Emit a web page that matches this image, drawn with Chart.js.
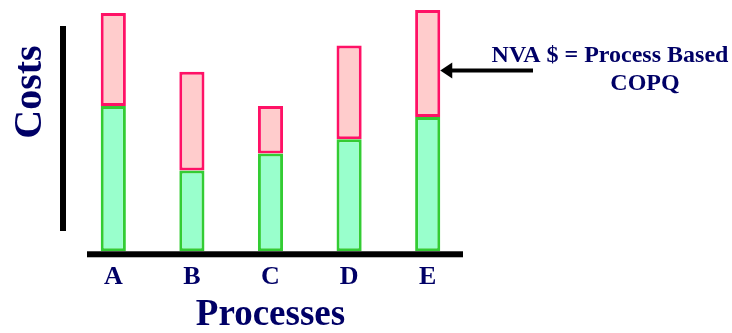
<!DOCTYPE html>
<html>
<head>
<meta charset="utf-8">
<title>Process Based COPQ</title>
<script src="https://cdn.jsdelivr.net/npm/chart.js@4.4.0/dist/chart.umd.min.js"></script>
<style>
    html, body { margin: 0; padding: 0; background: #fff; }
    #wrap { position: relative; width: 732px; height: 333px; }
</style>
</head>
<body>
<div id="wrap"><canvas id="costChart"></canvas></div>
<script>
// Data
const processes = ['A', 'B', 'C', 'D', 'E'];
const valueAddedCost = [144, 80, 97, 111, 133];
const nonValueAddedCost = [92, 98, 47, 93, 106];
const costMax = 249;

// Text
const yTitle = 'Costs';
const xTitle = 'Processes';
const noteLines = ['NVA $ = Process Based', 'COPQ'];

// Colours
const NAVY = '#000066';
const GREEN_FILL = '#99ffcc';
const GREEN_LINE = '#33cc33';
const PINK_FILL = '#ffcccc';
const PINK_LINE = '#ff1166';
const FONT = '"Liberation Serif", "Times New Roman", serif';

Chart.defaults.font.family = FONT;
Chart.defaults.color = NAVY;

// Axis strokes, rotated y label and the NVA note
const decorations = {
    id: 'decorations',
    afterDraw(chart) {
        const { ctx, chartArea } = chart;
        ctx.save();
        ctx.fillStyle = '#000';

        // axis lines
        ctx.fillRect(chartArea.left - 14, 26, 6, 205);
        ctx.fillRect(chartArea.left + 13, chartArea.bottom, chartArea.right - chartArea.left - 17, 6);

        // y label
        ctx.save();
        ctx.translate(31, 92);
        ctx.rotate(-Math.PI / 2);
        ctx.font = 'bold 40px ' + FONT;
        ctx.fillStyle = NAVY;
        ctx.textAlign = 'center';
        ctx.textBaseline = 'middle';
        ctx.fillText(yTitle, 0, 0);
        ctx.restore();

        // arrow pointing at the NVA part of the last bar
        const el = chart.getDatasetMeta(1).data[processes.length - 1];
        const tipX = el.x + el.width / 2;
        const y = 70.5;
        ctx.fillRect(tipX + 10, y - 2, 533 - tipX - 10, 4);
        ctx.beginPath();
        ctx.moveTo(tipX, y);
        ctx.lineTo(tipX + 12, y - 8);
        ctx.lineTo(tipX + 12, y + 8);
        ctx.closePath();
        ctx.fill();

        // note
        ctx.fillStyle = NAVY;
        ctx.font = 'bold 24px ' + FONT;
        ctx.textBaseline = 'alphabetic';
        ctx.textAlign = 'center';
        ctx.fillText(noteLines[0], 610, 62);
        ctx.fillText(noteLines[1], 645, 90);
        ctx.restore();
    }
};

const ctx = document.getElementById('costChart').getContext('2d');
const costChart = new Chart(ctx, {
    type: 'bar',
    data: {
        labels: processes,
        datasets: [{
            label: 'Value added',
            data: valueAddedCost,
            backgroundColor: GREEN_FILL,
            borderColor: GREEN_LINE,
            borderWidth: 3,
            borderSkipped: false
        }, {
            label: 'Non value added',
            data: nonValueAddedCost,
            backgroundColor: PINK_FILL,
            borderColor: PINK_LINE,
            borderWidth: 3,
            borderSkipped: false
        }]
    },
    options: {
        responsive: true,
        maintainAspectRatio: false,
        animation: false,
        barPercentage: 0.32,
        categoryPercentage: 1,
        layout: {
            padding: { left: 74, right: 265, top: 0, bottom: 0 }
        },
        plugins: {
            legend: { display: false },
            tooltip: { enabled: false }
        },
        scales: {
            x: {
                stacked: true,
                grid: { display: false, drawTicks: false },
                border: { display: false },
                ticks: {
                    color: NAVY,
                    padding: 10,
                    font: { size: 26, weight: 'bold' }
                },
                title: {
                    display: true,
                    text: xTitle,
                    color: NAVY,
                    font: { size: 37, weight: 'bold', lineHeight: 0.46 },
                    padding: { top: 4.5, bottom: 9 }
                }
            },
            y: {
                display: false,
                stacked: true,
                min: 0,
                max: costMax
            }
        }
    },
    plugins: [decorations]
});
</script>
</body>
</html>
